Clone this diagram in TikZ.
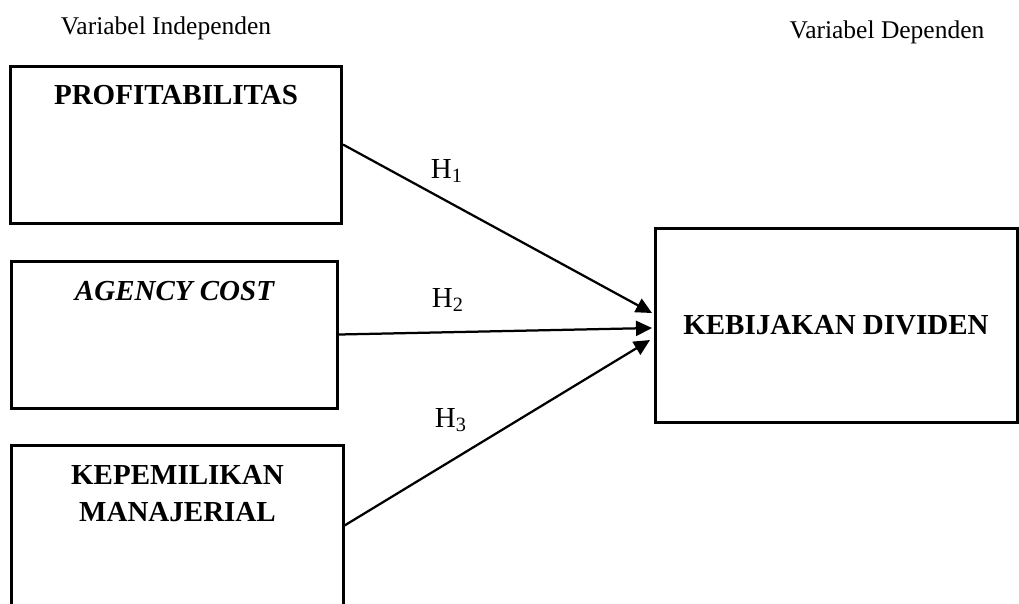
\documentclass[tikz,border=0pt]{standalone}
\usepackage{fontspec}
\setmainfont{Liberation Serif}
\usetikzlibrary{arrows.meta,positioning}
\begin{document}
\begin{tikzpicture}[x=0.4pt,y=-0.4pt,
    title/.style={font=\fontsize{10.2}{12}\selectfont},
    varbox/.style={draw, line width=1.2pt, inner sep=0pt},
    boxtext/.style={inner sep=0pt, font=\fontsize{11.6}{14.8}\selectfont\bfseries},
    hlabel/.style={font=\fontsize{11.6}{14}\selectfont},
    hyp/.style={-{Triangle[length=6.4pt,width=6pt]}, line width=0.9pt}]
      \useasboundingbox (0,0) rectangle (1019,603);
      % titles
      \node[title] at (166,28) (TI) {Variabel Independen};
      \node[title] at (887,32) (TD) {Variabel Dependen};
      % independent boxes
      \node[varbox, minimum width=132.4pt, minimum height=62.8pt] at (176,144.5) (P) {};
      \node[boxtext, below=8pt of P.north] (PT) {PROFITABILITAS};
      \node[varbox, minimum width=130pt, minimum height=58.8pt] at (174.5,334.5) (A) {};
      \node[boxtext, below=8.6pt of A.north] (AT) {\itshape AGENCY COST};
      \node[varbox, minimum width=132.4pt, minimum height=64.4pt] at (177.5,525.5) (M) {};
      \node[boxtext, below=8.4pt of M.north, align=center] (MT) {KEPEMILIKAN\\MANAJERIAL};
      % dependent box
      \node[varbox, boxtext, minimum width=144.8pt, minimum height=77.6pt] at (836,325) (K) {KEBIJAKAN DIVIDEN};
      % arrow ends
      \coordinate (k1) at (652,313);
      \coordinate (k2) at (652,328);
      \coordinate (k3) at (650,340);
      \draw[hyp] (P.east) -- (k1);
      \draw[hyp] (A.east) -- (k2);
      \draw[hyp] (M.east) -- (k3);
      % hypotheses
      \node[hlabel] at (447,171) (H1) {H\textsubscript{1}};
      \node[hlabel] at (448,300) (H2) {H\textsubscript{2}};
      \node[hlabel] at (451,420) (H3) {H\textsubscript{3}};
    \end{tikzpicture}
\end{document}
